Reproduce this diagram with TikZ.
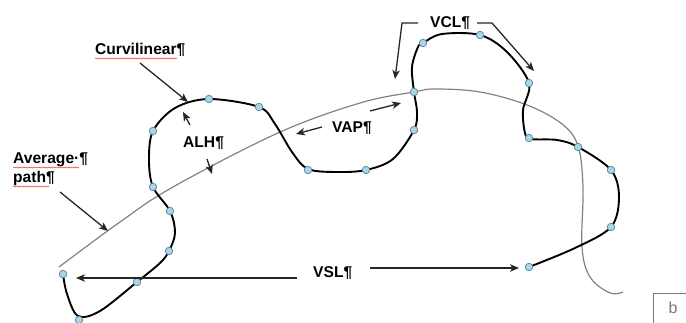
\documentclass[tikz,border=0pt]{standalone}
\usepackage{fontspec}
\setmainfont{Liberation Sans}
\usetikzlibrary{arrows.meta,decorations.pathmorphing}
\definecolor{dotfill}{RGB}{170,215,232}
\definecolor{dotline}{RGB}{95,140,160}
\definecolor{avggray}{RGB}{130,130,130}
\definecolor{boxgray}{RGB}{120,120,120}
\begin{document}
\begin{tikzpicture}[x=1pt,y=-1pt,
  lbl/.style={font=\bfseries\fontsize{15.6}{18}\selectfont, inner sep=0pt, anchor=base west},
  pointer/.style={line width=1.3pt, draw=black!85, -{Stealth[length=9pt,width=7.5pt,inset=2.5pt]}},
  track/.style={line width=1.9pt, black},
  avgline/.style={line width=1.2pt, avggray},
  sample/.style={circle, minimum size=7.5pt, inner sep=0pt, fill=dotfill, draw=dotline, line width=0.8pt},
  spell/.style={red!80, line width=0.5pt, decorate, decoration={snake, amplitude=0.6pt, segment length=2.5pt}}]
\useasboundingbox (0,0) rectangle (686,323);

% average path
\draw[avgline] plot[smooth, tension=0.6] coordinates {(59,267) (120,222) (173,187) (278,133) (360,103) (414,92) (435,89) (480,92) (527,105) (562,124) (578,146) (583,187) (582,247) (590,277) (610,293) (623,292)};

% curvilinear track
\draw[track] plot[smooth, tension=0.55] coordinates {
 (63,274) (67,294) (78,316) (100,311) (137,282) (160,263) (169,251) (175,233) (170,211) (153,187) (149,160) (153,131)
 (175,108) (209,99) (259,107) (275,124) (292,152) (308,169) (337,172) (366,170) (393,159) (414,130) (417,112) (414,92)
 (412,67) (418,47) (423,43) (442,34) (480,35) (507,52) (529,83) (523,110) (525,133) (531,139) (557,140) (578,147)
 (611,170) (619,197) (611,227) (575,248) (529,267)};

% sample points
\foreach \p [count=\i] in {(63,274),(79,320),(137,282),(169,251),(170,211),(153,187),(153,131),(209,99),(259,107),(308,170),(366,170),(414,130),(414,92),(423,43),(480,35),(529,83),(529,138),(578,147),(611,170),(611,227),(529,267)}
  \node[sample] (s\i) at \p {};

% labels
\node[lbl] (curv) at (95,55) {Curvilinear¶};
\node[lbl] (avg) at (13,164) {Average·¶};
\node[lbl] (pth) at (13,183) {path¶};
\node[lbl] (alh) at (183,148) {ALH¶};
\node[lbl] (vap) at (332,133) {VAP¶};
\node[lbl] (vcl) at (430,28) {VCL¶};
\node[lbl] (vsl) at (313,278) {VSL¶};

% spelling underlines
\draw[spell] (95,58.5) -- (177,58.5);
\draw[spell] (13,167.5) -- (79,167.5);
\draw[spell] (13,186.5) -- (49,186.5);

% pointer coordinates
\coordinate (curvT) at (140,63);  \coordinate (curvH) at (188,102);
\coordinate (alhT1) at (190,125); \coordinate (alhH1) at (183,112);
\coordinate (alhT2) at (207,159); \coordinate (alhH2) at (212,174);
\coordinate (vapT1) at (322,127); \coordinate (vapH1) at (296,134);
\coordinate (vapT2) at (370,111); \coordinate (vapH2) at (401,103);
\coordinate (vclL1) at (418,23);  \coordinate (vclL2) at (402,23); \coordinate (vclLH) at (395,79);
\coordinate (vclR1) at (477,23);  \coordinate (vclR2) at (492,23); \coordinate (vclRH) at (534,71);
\coordinate (avgT) at (60,192);   \coordinate (avgH) at (108,231);
\coordinate (vslT1) at (297,278); \coordinate (vslH1) at (76,278);
\coordinate (vslT2) at (370,268); \coordinate (vslH2) at (519,268);

\draw[pointer] (curvT) -- (curvH);
\draw[pointer] (alhT1) -- (alhH1);
\draw[pointer] (alhT2) -- (alhH2);
\draw[pointer] (vapT1) -- (vapH1);
\draw[pointer] (vapT2) -- (vapH2);
\draw[pointer] (vclL1) -- (vclL2) -- (vclLH);
\draw[pointer] (vclR1) -- (vclR2) -- (vclRH);
\draw[pointer] (avgT) -- (avgH);
\draw[pointer] (vslT1) -- (vslH1);
\draw[pointer] (vslT2) -- (vslH2);

% panel letter box
\coordinate (bx1) at (653,323); \coordinate (bx2) at (653,293); \coordinate (bx3) at (686,293);
\draw[boxgray, line width=0.6pt] (bx1) -- (bx2) -- (bx3);
\node[font=\fontsize{16}{18}\selectfont, text=boxgray, inner sep=0pt] (blabel) at (673,308) {b};
\end{tikzpicture}
\end{document}
